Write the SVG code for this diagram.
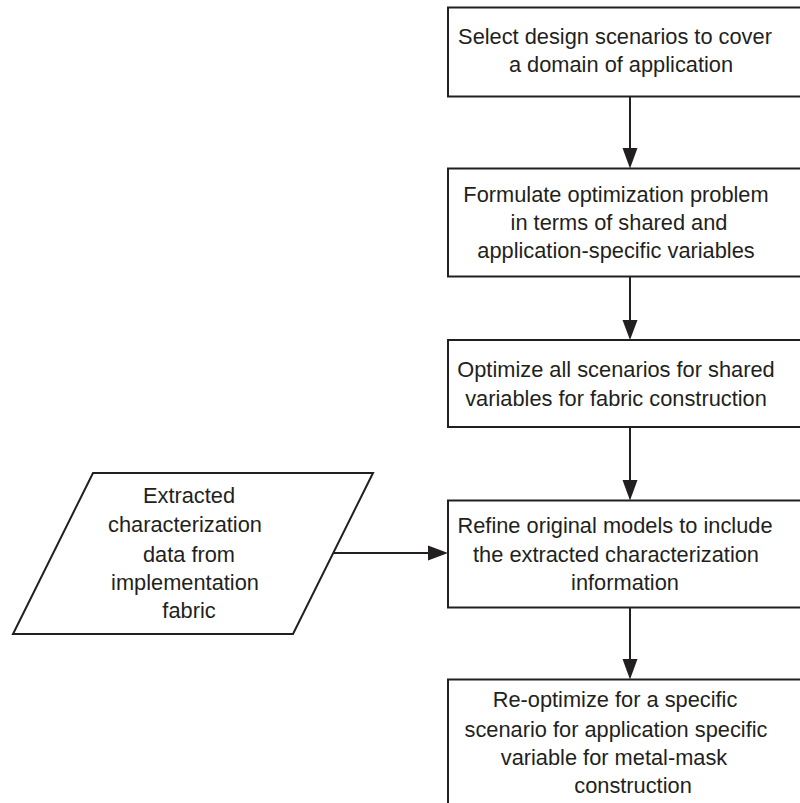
<svg xmlns="http://www.w3.org/2000/svg" width="800" height="803" viewBox="0 0 800 803">
<style>
.box{fill:#fff;stroke:#231f20;stroke-width:2}
.t{font-family:"Liberation Sans",Arial,sans-serif;font-size:21.8px;fill:#231f20;text-anchor:middle}
.ln{stroke:#231f20;stroke-width:2;fill:none}
.ah{fill:#231f20}
</style>
<rect width="800" height="803" fill="#fff"/>
<g id="n1">
<rect class="box" x="448" y="7.5" width="370" height="89"/>
<text class="t" x="615" y="43.5">Select design scenarios to cover</text>
<text class="t" x="621" y="72">a domain of application</text>
</g>
<g id="n2">
<rect class="box" x="448" y="168.5" width="370" height="108"/>
<text class="t" x="616" y="201.5">Formulate optimization problem</text>
<text class="t" x="619" y="230">in terms of shared and</text>
<text class="t" x="616" y="258">application-specific variables</text>
</g>
<g id="n3">
<rect class="box" x="448" y="340" width="370" height="87"/>
<text class="t" x="616" y="377">Optimize all scenarios for shared</text>
<text class="t" x="616" y="406">variables for fabric construction</text>
</g>
<g id="n4">
<rect class="box" x="448" y="500.5" width="370" height="107"/>
<text class="t" x="615" y="533">Refine original models to include</text>
<text class="t" x="616" y="562">the extracted characterization</text>
<text class="t" x="625" y="590">information</text>
</g>
<g id="n5">
<rect class="box" x="448" y="679.5" width="370" height="140"/>
<text class="t" x="615" y="707">Re-optimize for a specific</text>
<text class="t" x="616" y="737">scenario for application specific</text>
<text class="t" x="614" y="765">variable for metal-mask</text>
<text class="t" x="633" y="793">construction</text>
</g>
<g id="n6">
<polygon class="box" points="93,473 373,473 293,634 13,634"/>
<text class="t" x="189" y="503">Extracted</text>
<text class="t" x="185" y="532">characterization</text>
<text class="t" x="189" y="562">data from</text>
<text class="t" x="185" y="590">implementation</text>
<text class="t" x="189" y="618">fabric</text>
</g>
<g id="connectors">
<line class="ln" x1="630" y1="96.5" x2="630" y2="150"/>
<polygon class="ah" points="622.5,148 637.5,148 630,168.5"/>
<line class="ln" x1="630" y1="276.5" x2="630" y2="322"/>
<polygon class="ah" points="622.5,320 637.5,320 630,340"/>
<line class="ln" x1="630" y1="427" x2="630" y2="482"/>
<polygon class="ah" points="622.5,480 637.5,480 630,500.5"/>
<line class="ln" x1="630" y1="607.5" x2="630" y2="661"/>
<polygon class="ah" points="622.5,659 637.5,659 630,679.5"/>
<line class="ln" x1="333" y1="553" x2="430" y2="553"/>
<polygon class="ah" points="428,545.5 428,560.5 448,553"/>
</g>
</svg>
